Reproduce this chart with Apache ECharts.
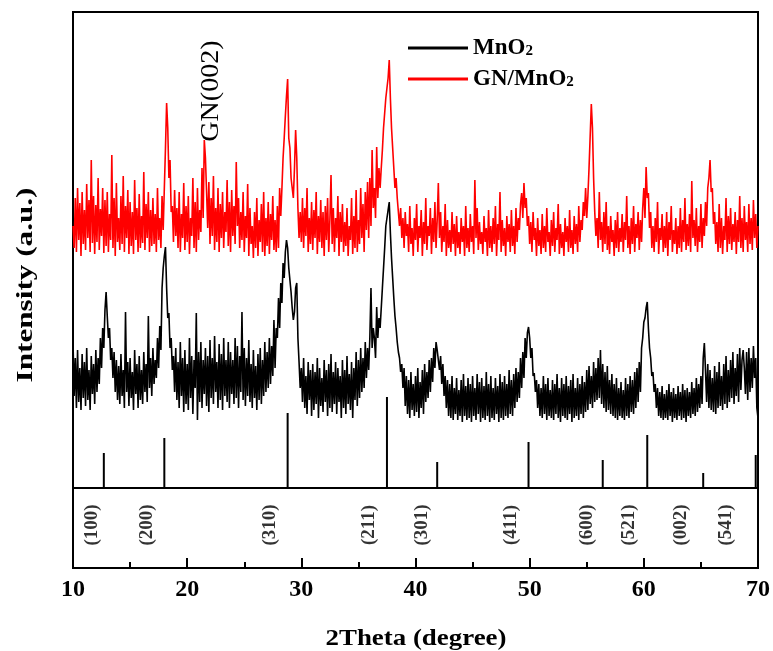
<!DOCTYPE html>
<html>
<head>
<meta charset="utf-8">
<script src="https://cdn.jsdelivr.net/npm/echarts@6/dist/echarts.min.js"></script>
<style>
  html, body { margin: 0; padding: 0; background: #fff; }
  #chart { width: 773px; height: 651px; }
</style>
</head>
<body>
<div id="chart"></div>
<script>
// 2θ sampling of both patterns: 10.0° to 70.0° in 0.1° steps
const thetaStart = 10;
const thetaStep = 0.1;

// GN/MnO2 diffraction intensity (a.u.), one row per degree
const gnMnO2 = [
  262, 240, 290, 236, 300, 248, 285, 232, 296, 244,
  278, 238, 304, 250, 288, 236, 328, 245, 292, 234,
  283, 246, 310, 238, 279, 252, 300, 235, 288, 242,
  296, 236, 274, 248, 333, 240, 290, 232, 305, 246,
  270, 238, 292, 244, 312, 236, 282, 250, 298, 234,
  286, 242, 276, 234, 308, 248, 280, 236, 294, 240,
  272, 245, 316, 238, 284, 250, 296, 236, 278, 242,
  290, 244, 274, 236, 300, 248, 270, 240, 292, 258,
  300, 340, 385, 360, 310, 328, 276, 282, 246, 298,
  252, 280, 240, 296, 236, 274, 250, 305, 238, 282,
  246, 292, 234, 270, 252, 310, 240, 286, 236, 300,
  248, 278, 256, 320, 270, 348, 330, 296, 260, 306,
  244, 290, 252, 312, 238, 280, 246, 300, 236, 284,
  250, 296, 240, 276, 256, 308, 242, 286, 236, 298,
  252, 282, 244, 326, 262, 290, 240, 276, 248, 296,
  236, 272, 250, 304, 232, 280, 244, 262, 230, 276,
  240, 290, 232, 268, 246, 284, 236, 296, 232, 270,
  242, 286, 234, 274, 248, 292, 238, 268, 236, 282,
  240, 300, 272, 300, 330, 350, 372, 392, 409, 350,
  340, 310, 300, 290, 320, 358, 330, 280, 250, 276,
  246, 290, 240, 280, 252, 300, 236, 270, 244, 286,
  238, 278, 250, 296, 234, 272, 246, 288, 240, 276,
  232, 282, 248, 290, 236, 268, 313, 244, 280, 236,
  270, 250, 292, 232, 276, 246, 284, 236, 266, 242,
  280, 232, 262, 248, 290, 234, 272, 240, 298, 236,
  268, 244, 300, 250, 284, 236, 296, 258, 306, 250,
  310, 262, 338, 280, 300, 270, 341, 290, 320, 300,
  320, 338, 360, 375, 390, 400, 410, 428, 390, 360,
  340, 320, 300, 310, 290, 276, 262, 280, 250, 270,
  240, 276, 252, 264, 236, 282, 244, 260, 232, 270,
  248, 284, 236, 262, 250, 278, 232, 266, 244, 290,
  238, 262, 252, 280, 234, 270, 246, 286, 240, 268,
  305, 250, 276, 236, 262, 246, 284, 232, 268, 240,
  258, 236, 276, 244, 264, 232, 272, 240, 256, 234,
  270, 246, 262, 232, 282, 240, 260, 236, 274, 246,
  262, 234, 308, 250, 280, 238, 266, 244, 256, 234,
  272, 246, 260, 232, 278, 240, 262, 236, 270, 244,
  282, 232, 264, 248, 296, 236, 268, 242, 260, 232,
  272, 246, 264, 236, 278, 242, 262, 234, 280, 246,
  270, 258, 284, 295, 270, 305, 280, 290, 262, 272,
  244, 266, 236, 276, 248, 260, 232, 270, 242, 258,
  234, 274, 240, 262, 236, 280, 246, 256, 232, 268,
  242, 276, 236, 260, 248, 284, 234, 264, 240, 256,
  232, 270, 246, 262, 236, 278, 240, 258, 234, 272,
  244, 264, 236, 282, 246, 268, 258, 286, 272, 300,
  270, 292, 320, 352, 384, 360, 310, 276, 252, 270,
  240, 296, 248, 266, 236, 276, 244, 286, 238, 262,
  234, 272, 246, 258, 232, 268, 240, 276, 236, 260,
  246, 274, 236, 266, 248, 292, 240, 262, 234, 270,
  244, 282, 236, 264, 250, 276, 238, 268, 246, 280,
  300, 270, 321, 290, 295, 260, 276, 240, 262, 236,
  270, 246, 286, 234, 260, 248, 274, 236, 262, 240,
  276, 232, 266, 248, 282, 236, 258, 244, 270, 234,
  262, 240, 280, 236, 268, 246, 290, 238, 264, 242,
  274, 236, 307, 250, 268, 242, 280, 236, 262, 246,
  284, 240, 270, 252, 286, 262, 300, 310, 328, 296,
  300, 264, 276, 244, 266, 236, 284, 240, 270, 234,
  262, 248, 290, 236, 272, 244, 280, 238, 264, 246,
  276, 234, 268, 246, 292, 240, 270, 236, 282, 248,
  266, 236, 284, 244, 270, 238, 288, 250, 274, 240,
  262
];

// MnO2 diffraction intensity (a.u.), one row per degree
const mnO2 = [
  148, 92, 130, 80, 138, 86, 120, 78, 134, 90,
  126, 82, 140, 88, 118, 78, 132, 94, 124, 84,
  138, 96, 130, 104, 150, 120, 160, 140, 178, 196,
  172, 150, 160, 128, 140, 110, 136, 96, 128, 88,
  122, 84, 134, 92, 118, 80, 176, 96, 126, 82,
  130, 90, 116, 78, 138, 94, 124, 80, 132, 88,
  118, 84, 136, 96, 124, 86, 172, 100, 130, 92,
  140, 104, 128, 110, 150, 120, 162, 138, 200, 220,
  232, 241, 200, 170, 175, 140, 150, 118, 132, 96,
  140, 88, 126, 80, 146, 92, 130, 76, 138, 84,
  124, 78, 150, 90, 132, 74, 128, 100, 175, 68,
  136, 86, 146, 80, 128, 94, 140, 82, 132, 76,
  148, 90, 130, 84, 152, 96, 126, 80, 144, 88,
  134, 78, 150, 92, 128, 86, 146, 80, 136, 94,
  128, 84, 150, 90, 142, 80, 132, 96, 176, 88,
  140, 82, 130, 92, 148, 86, 124, 80, 138, 90,
  122, 78, 134, 88, 140, 84, 128, 92, 146, 96,
  136, 100, 150, 104, 142, 112, 168, 120, 160, 150,
  190, 160, 205, 185, 225, 210, 236, 248, 240, 220,
  220, 196, 180, 168, 176, 200, 205, 150, 126, 100,
  120, 86, 130, 80, 112, 74, 126, 88, 118, 72,
  124, 78, 116, 84, 130, 70, 120, 82, 110, 76,
  128, 86, 118, 72, 124, 80, 134, 76, 116, 84,
  126, 74, 120, 86, 112, 70, 128, 80, 118, 74,
  132, 84, 114, 78, 126, 70, 120, 88, 136, 82,
  128, 90, 140, 96, 130, 100, 146, 110, 140, 118,
  150, 200, 140, 160, 150, 130, 181, 150, 170, 160,
  180, 200, 220, 240, 262, 270, 278, 286, 255, 230,
  210, 190, 172, 160, 146, 136, 130, 116, 124, 100,
  120, 82, 112, 74, 108, 70, 116, 78, 104, 72,
  112, 76, 120, 70, 106, 80, 118, 74, 124, 86,
  116, 90, 128, 96, 130, 106, 140, 120, 146, 138,
  140, 118, 132, 104, 124, 92, 112, 80, 108, 72,
  104, 70, 112, 68, 100, 74, 110, 68, 98, 72,
  108, 66, 114, 72, 102, 68, 110, 70, 104, 66,
  112, 72, 100, 68, 114, 74, 106, 66, 110, 70,
  102, 68, 116, 72, 104, 66, 112, 70, 100, 68,
  110, 74, 102, 66, 114, 70, 106, 68, 112, 72,
  104, 70, 118, 74, 108, 72, 114, 80, 120, 86,
  116, 90, 130, 100, 136, 110, 150, 130, 155, 161,
  150, 130, 140, 112, 115, 96, 108, 80, 104, 72,
  100, 70, 112, 74, 104, 68, 110, 72, 98, 70,
  108, 68, 104, 74, 114, 70, 100, 66, 110, 72,
  104, 70, 112, 68, 102, 74, 108, 66, 114, 70,
  100, 72, 110, 68, 104, 74, 112, 70, 106, 76,
  118, 78, 122, 84, 112, 80, 126, 86, 120, 88,
  130, 90, 138, 84, 124, 80, 116, 76, 122, 78,
  108, 74, 114, 72, 104, 70, 110, 68, 100, 72,
  106, 70, 98, 68, 110, 72, 104, 70, 112, 76,
  108, 74, 116, 80, 120, 86, 126, 96, 140, 150,
  166, 170, 180, 186, 160, 140, 130, 112, 116, 96,
  104, 80, 100, 72, 96, 70, 102, 68, 94, 70,
  98, 68, 104, 72, 96, 66, 100, 70, 94, 68,
  102, 72, 96, 68, 104, 70, 98, 66, 100, 72,
  96, 70, 106, 74, 100, 72, 110, 76, 104, 80,
  112, 84, 130, 145, 118, 86, 124, 80, 118, 78,
  110, 76, 122, 74, 116, 80, 126, 82, 112, 78,
  124, 84, 132, 80, 118, 86, 128, 90, 136, 84,
  120, 92, 134, 86, 140, 98, 128, 138, 120, 94,
  136, 88, 140, 96, 130, 100, 142, 110, 130, 80,
  70
];

// Standard MnO2 reflections: position (2θ), relative height, Miller indices
const refPositions = [12.7, 18.0, 28.8, 37.5, 41.9, 49.9, 56.4, 60.3, 65.2, 69.8];
const refHeights   = [35, 50, 75, 91, 26, 46, 28, 53, 15, 33];
const refIndices   = ['(100)', '(200)', '(310)', '(211)', '(301)', '(411)', '(600)', '(521)', '(002)', '(541)'];
// Where each index label sits along 2θ in the lower strip
const refLabelPositions = [11.7, 16.45, 27.3, 35.95, 40.55, 48.4, 55.0, 58.7, 63.25, 67.2];

const xTicks = [10, 20, 30, 40, 50, 60, 70];

const SERIF = '"Liberation Serif", "Times New Roman", serif';

function toPoints(values) {
  return values.map((v, i) => [+(thetaStart + i * thetaStep).toFixed(1), v]);
}

const chart = echarts.init(document.getElementById('chart'), null, { renderer: 'canvas' });

chart.setOption({
  animation: false,
  backgroundColor: '#fff',
  grid: [
    { left: 73, top: 12, width: 685, height: 476, show: true, borderColor: '#000', borderWidth: 2, backgroundColor: 'transparent' },
    { left: 73, top: 488, width: 685, height: 80, show: true, borderColor: '#000', borderWidth: 2, backgroundColor: 'transparent' }
  ],
  xAxis: [
    {
      gridIndex: 0, type: 'value', min: xTicks[0], max: xTicks[xTicks.length - 1],
      axisLine: { show: false }, axisTick: { show: false }, axisLabel: { show: false },
      splitLine: { show: false }
    },
    {
      gridIndex: 1, type: 'value', min: xTicks[0], max: xTicks[xTicks.length - 1], interval: 10,
      axisLine: { show: true, onZero: false, lineStyle: { color: '#000', width: 2 } },
      axisTick: { show: true, inside: true, length: 10, lineStyle: { color: '#000', width: 2 } },
      minorTick: { show: true, splitNumber: 2, length: 6, lineStyle: { color: '#000', width: 2 } },
      axisLabel: {
        show: true, margin: 10, color: '#000', fontFamily: SERIF, fontWeight: 'bold', fontSize: 24,
        customValues: xTicks
      },
      splitLine: { show: false }, minorSplitLine: { show: false }
    }
  ],
  yAxis: [
    { gridIndex: 0, type: 'value', min: 0, max: 476, show: false, splitLine: { show: false } },
    { gridIndex: 1, type: 'value', min: 0, max: 80, show: false, splitLine: { show: false } }
  ],
  legend: {
    orient: 'vertical',
    left: 403,
    top: 31,
    icon: 'rect',
    itemWidth: 60,
    itemHeight: 3,
    itemGap: 7,
    data: ['MnO2', 'GN/MnO2'],
    formatter: name => '{t|' + name.slice(0, -1) + '}{s|2}',
    textStyle: {
      color: '#000',
      lineHeight: 24,
      rich: {
        t: { fontFamily: SERIF, fontWeight: 'bold', fontSize: 23, color: '#000', lineHeight: 24 },
        s: { fontFamily: SERIF, fontWeight: 'bold', fontSize: 15, color: '#000', lineHeight: 24, padding: [6, 0, 0, 0] }
      }
    }
  },
  series: [
    {
      name: 'GN/MnO2', type: 'line', xAxisIndex: 0, yAxisIndex: 0,
      data: toPoints(gnMnO2), showSymbol: false, symbol: 'none',
      lineStyle: { color: '#ff0000', width: 1.6 }, itemStyle: { color: '#ff0000' },
      z: 2
    },
    {
      name: 'MnO2', type: 'line', xAxisIndex: 0, yAxisIndex: 0,
      data: toPoints(mnO2), showSymbol: false, symbol: 'none',
      lineStyle: { color: '#000', width: 1.6 }, itemStyle: { color: '#000' },
      z: 3
    },
    {
      name: 'reference', type: 'bar', xAxisIndex: 0, yAxisIndex: 0,
      data: refPositions.map((x, i) => [x, refHeights[i]]),
      barWidth: 2, itemStyle: { color: '#000' }, z: 4
    },
    {
      name: 'indices', type: 'scatter', xAxisIndex: 1, yAxisIndex: 1,
      data: refLabelPositions.map((x, i) => ({ value: [x, 43], name: refIndices[i] })),
      symbolSize: 0,
      label: {
        show: true, position: 'inside', rotate: 90,
        formatter: p => p.name,
        color: '#000', fontFamily: SERIF, fontWeight: 'bold', fontSize: 19,
        align: 'center', verticalAlign: 'middle'
      },
      z: 5
    }
  ],
  graphic: [
    {
      type: 'text', x: 26, y: 285, rotation: Math.PI / 2, scaleX: 1.3,
      style: {
        text: 'Intensity (a.u.)', fill: '#000', fontFamily: SERIF, fontWeight: 'bold', fontSize: 24,
        align: 'center', verticalAlign: 'middle'
      }
    },
    {
      type: 'text', x: 416, y: 639, scaleX: 1.12,
      style: {
        text: '2Theta (degree)', fill: '#000', fontFamily: SERIF, fontWeight: 'bold', fontSize: 24,
        align: 'center', verticalAlign: 'middle'
      }
    },
    {
      type: 'text', x: 211, y: 91, rotation: Math.PI / 2, scaleX: 1.08,
      style: {
        text: 'GN(002)', fill: '#000', fontFamily: SERIF, fontWeight: 'normal', fontSize: 26,
        align: 'center', verticalAlign: 'middle'
      }
    }
  ]
});
</script>
</body>
</html>
